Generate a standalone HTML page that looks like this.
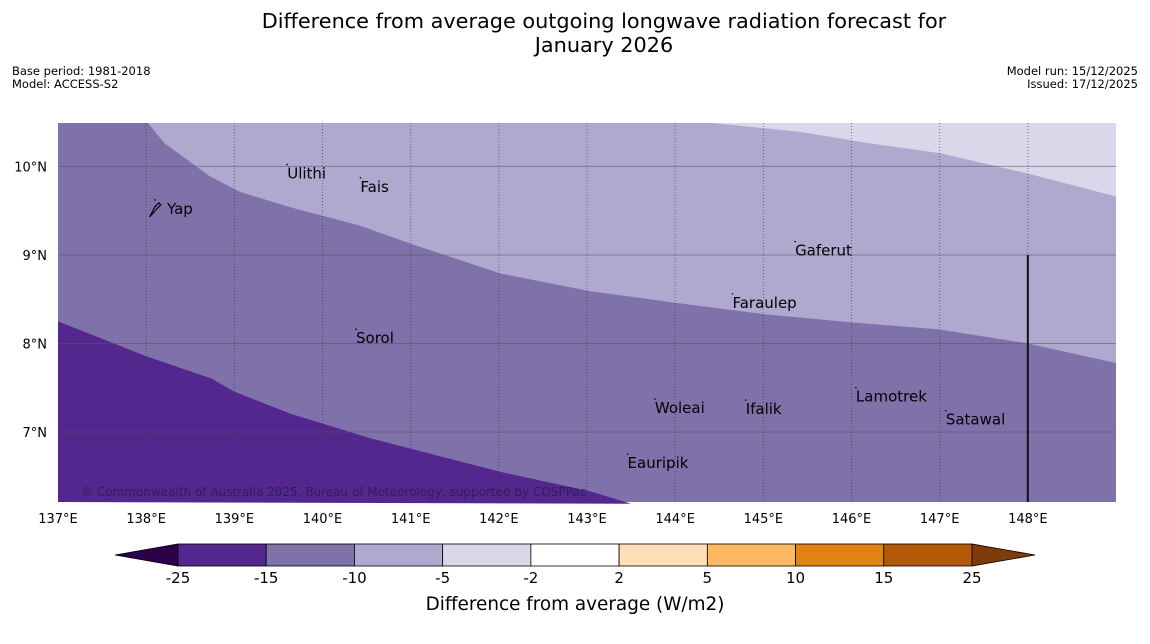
<!DOCTYPE html>
<html><head><meta charset="utf-8"><style>
body{margin:0;background:#fff;width:1150px;height:644px;overflow:hidden;font-family:"DejaVu Sans","Liberation Sans",sans-serif;}
svg{display:block}
</style></head><body>
<svg id="c" width="1150" height="644" viewBox="0 0 1150 644">
<text x="604" y="28" text-anchor="middle" font-size="20.8">Difference from average outgoing longwave radiation forecast for</text>
<text x="604" y="52" text-anchor="middle" font-size="20.8">January 2026</text>
<text x="12" y="75" font-size="11.5">Base period: 1981-2018</text>
<text x="12" y="88" font-size="11.5">Model: ACCESS-S2</text>
<text x="1138" y="75" text-anchor="end" font-size="11.5">Model run: 15/12/2025</text>
<text x="1138" y="88" text-anchor="end" font-size="11.5">Issued: 17/12/2025</text>
<g id="map"></g>
<g id="cbar"></g>
<text x="575" y="610" text-anchor="middle" font-size="18.4">Difference from average (W/m2)</text>
</svg>
<script>
// contour boundaries (lon, lat)
const b15Lon=[137,137.99,138.75,138.99,139.63,140.54,142.02,143.04,143.5];
const b15Lat=[8.25,7.86,7.6,7.46,7.21,6.93,6.55,6.33,6.19];
const b10Lon=[138.02,138.21,138.72,139.07,139.63,140.43,140.99,142.02,143.04,144.0,145.02,145.98,146.99,148.0,149];
const b10Lat=[10.49,10.26,9.89,9.71,9.54,9.33,9.13,8.79,8.59,8.46,8.33,8.24,8.16,8.0,7.78];
const b5Lon=[144.43,145.42,146.21,147.0,148,149];
const b5Lat=[10.49,10.39,10.26,10.15,9.92,9.66];
const lonTicks=[137,138,139,140,141,142,143,144,145,146,147,148];
const latTicks=[10,9,8,7];
const places=["Yap","Ulithi","Fais","Gaferut","Faraulep","Sorol","Lamotrek","Woleai","Ifalik","Satawal","Eauripik"];
const placeLon=[138.1,139.6,140.43,145.36,144.65,140.38,146.05,143.77,144.8,147.07,143.46];
const placeLat=[9.52,9.92,9.77,9.05,8.46,8.06,7.4,7.27,7.26,7.14,6.65];
const cbLevels=["-25","-15","-10","-5","-2","2","5","10","15","25"];
const cbColors=["#54278f","#7f72ab","#b0a9cf","#d8d8ea","#ffffff","#fee0b6","#fdb863","#e08214","#b35806"];

const NS="http://www.w3.org/2000/svg";
const L=58,R=1116,T=123,B=502,lon0=137,lon1=149,lat0=6.21,lat1=10.49;
const X=lo=>L+(lo-lon0)/(lon1-lon0)*(R-L);
const Y=la=>T+(lat1-la)/(lat1-lat0)*(B-T);
function el(t,a,p){const e=document.createElementNS(NS,t);for(const k in a)e.setAttribute(k,a[k]);p.appendChild(e);return e;}
const map=document.getElementById('map');
const pts=(lo,la)=>lo.map((v,i)=>X(v)+","+Y(la[i])).join(" ");
let r=el('rect',{x:L,y:T,width:R-L,height:B-T,fill:'#7f72ab'},map);


let p=el('polygon',{points:pts(b10Lon,b10Lat)+` ${R},${T}`,fill:'#b0a9cf'},map);


p=el('polygon',{points:pts(b5Lon,b5Lat)+` ${R},${T}`,fill:'#d8d8ea'},map);


p=el('polygon',{points:pts(b15Lon,b15Lat)+` ${L},${B}`,fill:'#54278f'},map);


latTicks.forEach(la=>{
 const g=el('line',{x1:L,x2:R,y1:Y(la),y2:Y(la),stroke:'#555',"stroke-opacity":0.55,"stroke-width":1},map);
 
 
 const t=el('text',{x:L-11,y:Y(la)+5,"text-anchor":"end","font-size":13},map);t.textContent=la+"°N";
 
 
});
lonTicks.forEach(lo=>{
 if(lo>lon0){const g=el('line',{x1:X(lo),x2:X(lo),y1:T,y2:B,stroke:'#333',"stroke-opacity":0.6,"stroke-dasharray":"1,2"},map);
 
 }
 const t=el('text',{x:X(lo),y:523,"text-anchor":"middle","font-size":13},map);t.textContent=lo+"°E";
 
 
});
let ln=el('line',{x1:X(148),x2:X(148),y1:Y(9),y2:B,stroke:'#111',"stroke-width":2},map);


places.forEach((n,i)=>{
 const d=el('circle',{cx:X(placeLon[i]),cy:Y(placeLat[i])-9,r:0.8,fill:'#000'},map);
 
 
 const t=el('text',{x:X(placeLon[i])+(n=="Yap"?12:0),y:Y(placeLat[i])+5,"font-size":15},map);t.textContent=n;
 
 
});
let yi=el('path',{d:`M${X(138.12)-7},${Y(9.52)+8} l5,-10 l4,-4 l2,2 l-4,4 z`,fill:'none',stroke:'#000',"stroke-width":1.2},map);


let cp=el('text',{x:81,y:496,"font-size":12,fill:'#2a1a4a',"fill-opacity":0.8},map);
cp.textContent="© Commonwealth of Australia 2025, Bureau of Meteorology, supported by COSPPac";


const cb=document.getElementById('cbar');
const cbL=178,cbR=972,cbT=544,cbB=566,w=(cbR-cbL)/cbColors.length;
let lt=el('polygon',{points:`115,555 ${cbL},${cbT} ${cbL},${cbB}`,fill:'#2d004b',stroke:'#000',"stroke-width":0.8},cb);


let rt=el('polygon',{points:`1035,555 ${cbR},${cbT} ${cbR},${cbB}`,fill:'#7f3b08',stroke:'#000',"stroke-width":0.8},cb);


cbColors.forEach((c,i)=>{
 const b=el('rect',{x:cbL+i*w,y:cbT,width:w,height:cbB-cbT,fill:c,stroke:'#000',"stroke-width":0.8},cb);
 
 
});
cbLevels.forEach((v,i)=>{
 const t=el('text',{x:cbL+i*w,y:583,"text-anchor":"middle","font-size":15},cb);t.textContent=v;
 
 
});
</script>
</body></html>
